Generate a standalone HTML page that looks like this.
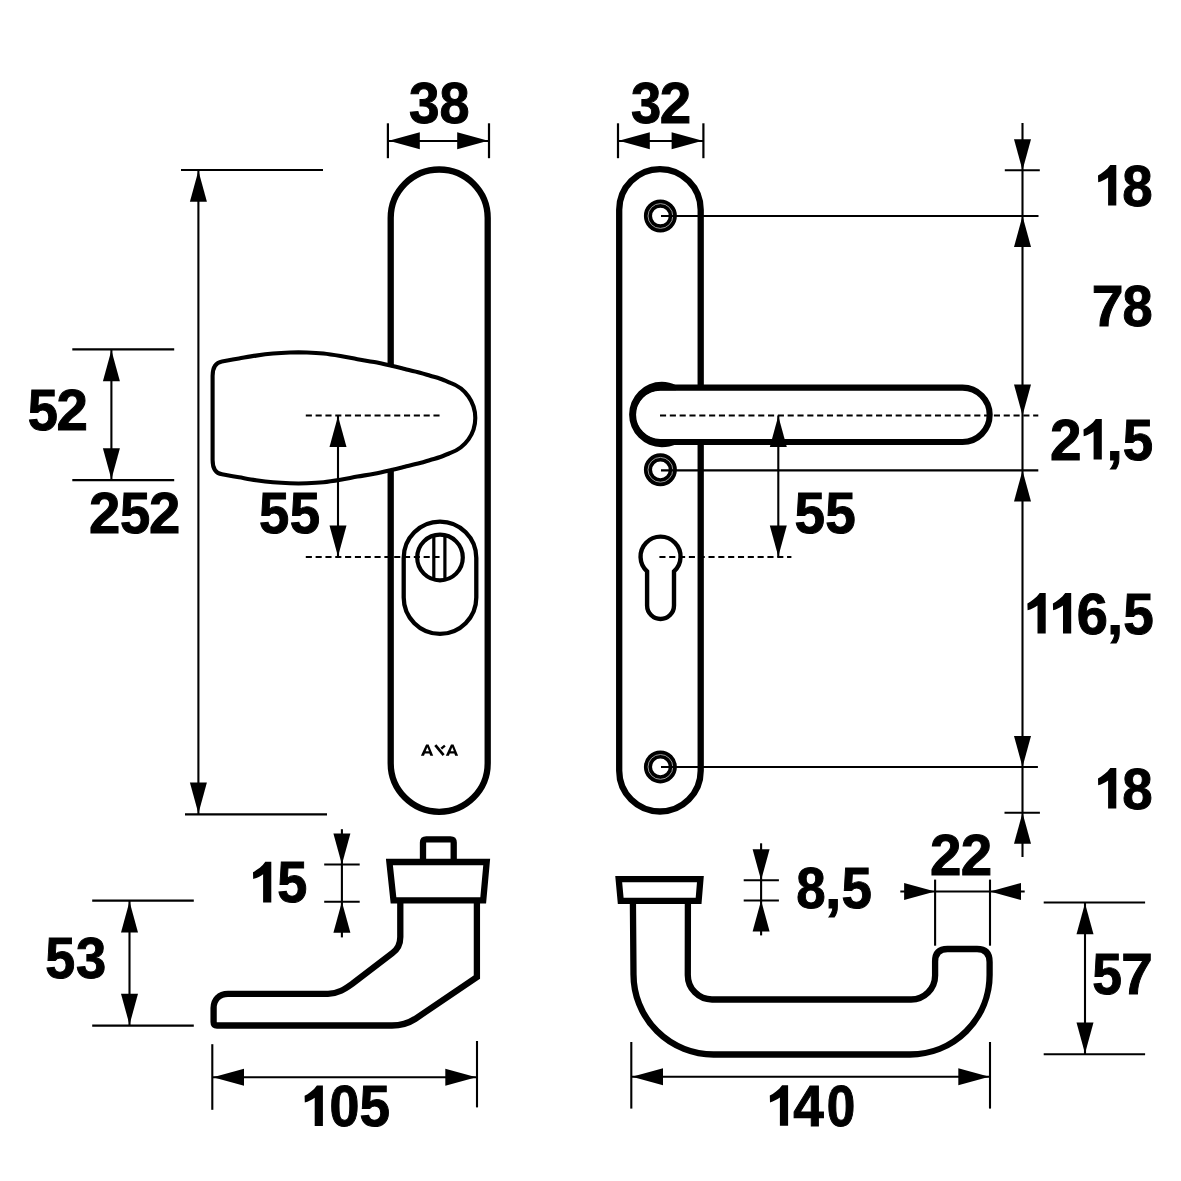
<!DOCTYPE html>
<html><head><meta charset="utf-8"><style>
html,body{margin:0;padding:0;background:#fff;}
svg{display:block;}
text{font-family:"Liberation Sans",sans-serif;font-weight:bold;fill:#000;}
.o{fill:#fff;stroke:#000;}
.f{fill:#000;stroke:none;}
.d{stroke:#000;stroke-width:2;stroke-dasharray:6.1 3.72;}
</style></head><body>
<svg width="1181" height="1181" viewBox="0 0 1181 1181" stroke="#000" stroke-linecap="butt">
<rect width="1181" height="1181" fill="#fff" stroke="none"/>
<line x1="387.9" y1="123.3" x2="387.9" y2="158.2" stroke-width="2.2"/>
<line x1="489" y1="123.3" x2="489" y2="158.2" stroke-width="2.2"/>
<line x1="388" y1="140.9" x2="489" y2="140.9" stroke-width="2.0"/>
<polygon class="f" points="388.8,140.8 419.8,132.3 419.8,149.3"/>
<polygon class="f" points="488.2,140.8 457.2,149.3 457.2,132.3"/>
<text transform="translate(408.94,123.10) scale(0.9502,1)" font-size="57.8">3</text>
<text transform="translate(439.58,123.10) scale(0.9358,1)" font-size="57.8">8</text>
<line x1="618" y1="123.3" x2="618" y2="158.2" stroke-width="2.2"/>
<line x1="703.4" y1="123.3" x2="703.4" y2="158.2" stroke-width="2.2"/>
<line x1="618" y1="140.9" x2="703.4" y2="140.9" stroke-width="2.0"/>
<polygon class="f" points="618.8,140.8 649.8,132.3 649.8,149.3"/>
<polygon class="f" points="702.6,140.8 671.6,149.3 671.6,132.3"/>
<text transform="translate(630.95,123.00) scale(0.9398,1)" font-size="57.8">3</text>
<text transform="translate(659.64,123.00) scale(0.9774,1)" font-size="57.8">2</text>
<line x1="181" y1="170" x2="323" y2="170" stroke-width="2.1"/>
<line x1="185" y1="814.4" x2="327" y2="814.4" stroke-width="2.1"/>
<line x1="198.4" y1="170" x2="198.4" y2="814.4" stroke-width="2.1"/>
<polygon class="f" points="198.4,170.8 206.9,201.8 189.9,201.8"/>
<polygon class="f" points="198.4,813.6 189.9,782.6 206.9,782.6"/>
<text transform="translate(88.95,533.20) scale(0.9739,1)" font-size="57.8">2</text>
<text transform="translate(120.12,533.20) scale(0.9423,1)" font-size="57.8">5</text>
<text transform="translate(149.05,533.20) scale(0.9739,1)" font-size="57.8">2</text>
<line x1="72.3" y1="349.4" x2="174.2" y2="349.4" stroke-width="2.1"/>
<line x1="72.3" y1="480.1" x2="174.2" y2="480.1" stroke-width="2.1"/>
<line x1="111.4" y1="349.4" x2="111.4" y2="480.1" stroke-width="2.1"/>
<polygon class="f" points="111.4,350.2 119.9,381.2 102.9,381.2"/>
<polygon class="f" points="111.4,479.3 102.9,448.3 119.9,448.3"/>
<text transform="translate(27.73,429.70) scale(0.9388,1)" font-size="57.8">5</text>
<text transform="translate(56.54,429.70) scale(0.9774,1)" font-size="57.8">2</text>
<rect class="o" x="390.7" y="169.5" width="97" height="642.3" rx="48.5" ry="48.5" stroke-width="6.3"/>
<path class="o" d="M212.6,375.9 C212.6,367.9 215,362.59999999999997 222,361.5 C224.83,361.00 233.33,359.48 239.00,358.50 C244.67,357.52 250.33,356.43 256.00,355.60 C261.67,354.77 267.33,354.02 273.00,353.50 C278.67,352.98 284.33,352.67 290.00,352.50 C295.67,352.33 301.42,352.33 307.00,352.50 C312.58,352.67 317.92,352.92 323.50,353.50 C329.08,354.08 334.85,355.05 340.50,356.00 C346.15,356.95 351.77,358.18 357.40,359.20 C363.03,360.22 368.65,361.00 374.30,362.10 C379.95,363.20 386.22,364.65 391.30,365.80 C396.38,366.95 400.02,367.85 404.80,369.00 C409.58,370.15 415.77,371.57 420.00,372.70 C424.23,373.83 426.82,374.78 430.20,375.80 C433.58,376.82 436.92,377.62 440.30,378.80 C443.68,379.98 448.80,382.22 450.50,382.90 A37.1,37.1 0 0 1 450.5,452.9 C448.80,453.58 443.68,455.82 440.30,457.00 C436.92,458.18 433.58,458.98 430.20,460.00 C426.82,461.02 424.23,461.97 420.00,463.10 C415.77,464.23 409.58,465.65 404.80,466.80 C400.02,467.95 396.38,468.85 391.30,470.00 C386.22,471.15 379.95,472.60 374.30,473.70 C368.65,474.80 363.03,475.58 357.40,476.60 C351.77,477.62 346.15,478.85 340.50,479.80 C334.85,480.75 329.08,481.72 323.50,482.30 C317.92,482.88 312.58,483.13 307.00,483.30 C301.42,483.47 295.67,483.47 290.00,483.30 C284.33,483.13 278.67,482.82 273.00,482.30 C267.33,481.78 261.67,481.03 256.00,480.20 C250.33,479.37 244.67,478.28 239.00,477.30 C233.33,476.32 224.83,474.80 222.00,474.30 C215,473.2 212.6,467.9 212.6,459.9 Z" stroke-width="4.1"/>
<rect class="o" x="403.7" y="521.6" width="72.6" height="112.2" rx="36.3" ry="36.3" stroke-width="4.3"/>
<circle class="o" cx="440" cy="557.5" r="22.8" stroke-width="4.2"/>
<line x1="433.8" y1="536" x2="433.8" y2="579" stroke-width="3.2"/>
<line x1="444.9" y1="536" x2="444.9" y2="579" stroke-width="3.2"/>
<line class="d" x1="305.8" y1="415.5" x2="440" y2="415.5"/>
<line class="d" x1="305.8" y1="557" x2="440" y2="557"/>
<line x1="338" y1="415.5" x2="338" y2="557" stroke-width="2.1"/>
<polygon class="f" points="338.0,416.0 346.5,447.0 329.5,447.0"/>
<polygon class="f" points="338.0,556.5 329.5,525.5 346.5,525.5"/>
<text transform="translate(259.12,533.30) scale(0.9423,1)" font-size="57.8">5</text>
<text transform="translate(289.82,533.30) scale(0.9458,1)" font-size="57.8">5</text>
<path class="f" fill-rule="evenodd" d="M420.90,755.70 L426.10,744.40 L428.60,744.40 L433.20,755.70 L430.30,755.70 L429.40,753.50 L424.90,753.50 L424.00,755.70 Z M425.70,751.30 L429.00,751.30 L427.35,747.20 Z M445.80,755.70 L451.00,744.40 L453.50,744.40 L458.10,755.70 L455.20,755.70 L454.30,753.50 L449.80,753.50 L448.90,755.70 Z M450.60,751.30 L453.90,751.30 L452.25,747.20 Z"/>
<path d="M435.3,745.2 L443.6,755.2" stroke-width="2.7" fill="none"/>
<path d="M444.9,745.6 L441.3,748.6" stroke-width="2.4" fill="none"/>
<rect class="o" x="619.2" y="169.1" width="81.5" height="642.4" rx="40.75" ry="40.75" stroke-width="6.3"/>
<circle cx="660.4" cy="216" r="12.42" fill="none" stroke-width="8.15"/>
<circle cx="660.4" cy="216" r="12.4" fill="none" stroke="#a8a8a8" stroke-width="0.9"/>
<circle cx="660.4" cy="469.8" r="12.42" fill="none" stroke-width="8.15"/>
<circle cx="660.4" cy="469.8" r="12.4" fill="none" stroke="#a8a8a8" stroke-width="0.9"/>
<circle cx="660.4" cy="766.9" r="12.42" fill="none" stroke-width="8.15"/>
<circle cx="660.4" cy="766.9" r="12.4" fill="none" stroke="#a8a8a8" stroke-width="0.9"/>
<line x1="661" y1="216" x2="1038.5" y2="216" stroke-width="2.1"/>
<line x1="661" y1="470.4" x2="1038.3" y2="470.4" stroke-width="2.1"/>
<line x1="661" y1="767" x2="1037.9" y2="767" stroke-width="2.1"/>
<path class="o" d="M660.2,387.6 H962.5 A27.2,27.2 0 0 1 962.5,442 H660.2 A27.2,27.2 0 0 1 660.2,387.6 Z" stroke-width="6.1"/>
<path class="f" d="M676,385.2 C672,383 667,381.8 661.8,381.8 A32.7,32.7 0 0 0 661.8,447.2 C667,447.2 672,446 676,444.5 L676,439.4 L660.2,439.4 A24.5,24.5 0 0 1 660.2,390.3 L676,390.3 Z"/>
<path class="o" d="M647.1,571.4 A20,20 0 1 1 674,571.4 L674,605.5 A13.45,13.45 0 0 1 647.1,605.5 Z" stroke-width="4.4"/>
<line class="d" x1="660" y1="415.5" x2="1038.3" y2="415.5"/>
<line class="d" x1="659.4" y1="557" x2="791.4" y2="557"/>
<line x1="778.3" y1="415.5" x2="778.3" y2="557" stroke-width="2.1"/>
<polygon class="f" points="778.3,416.0 786.8,447.0 769.8,447.0"/>
<polygon class="f" points="778.3,556.5 769.8,525.5 786.8,525.5"/>
<text transform="translate(794.51,533.30) scale(0.9493,1)" font-size="57.8">5</text>
<text transform="translate(825.31,533.30) scale(0.9493,1)" font-size="57.8">5</text>
<line x1="1022.5" y1="123" x2="1022.5" y2="857" stroke-width="2.1"/>
<line x1="1004.8" y1="170.2" x2="1039.8" y2="170.2" stroke-width="2.1"/>
<line x1="1004.5" y1="812.7" x2="1039.9" y2="812.7" stroke-width="2.1"/>
<polygon class="f" points="1022.5,170.2 1014.0,139.2 1031.0,139.2"/>
<polygon class="f" points="1022.5,216.0 1031.0,247.0 1014.0,247.0"/>
<polygon class="f" points="1022.5,415.5 1014.0,384.5 1031.0,384.5"/>
<polygon class="f" points="1022.5,470.4 1031.0,501.4 1014.0,501.4"/>
<polygon class="f" points="1022.5,767.0 1014.0,736.0 1031.0,736.0"/>
<polygon class="f" points="1022.5,812.7 1031.0,843.7 1014.0,843.7"/>
<path class="f" d="M1110.30,165.00 H1116.30 V205.60 H1108.10 V177.40 C1105.20,179.60 1101.80,181.20 1098.20,182.20 L1098.00,175.40 C1101.50,173.50 1107.00,170.00 1110.30,165.00 Z"/>
<text transform="translate(1122.36,205.60) scale(0.9463,1)" font-size="57.8">8</text>
<text transform="translate(1091.85,326.30) scale(0.9881,1)" font-size="57.8">7</text>
<text transform="translate(1122.38,326.30) scale(0.9393,1)" font-size="57.8">8</text>
<text transform="translate(1050.03,459.60) scale(0.9810,1)" font-size="57.8">2</text>
<path class="f" d="M1095.80,419.00 H1101.80 V459.60 H1093.60 V431.40 C1090.70,433.60 1087.30,435.20 1083.70,436.20 L1083.50,429.40 C1087.00,427.50 1092.50,424.00 1095.80,419.00 Z"/>
<text transform="translate(1106.42,459.60) scale(1.0158,1)" font-size="57.8">,</text>
<text transform="translate(1122.72,459.60) scale(0.9458,1)" font-size="57.8">5</text>
<path class="f" d="M1039.70,593.00 H1045.70 V633.60 H1037.50 V605.40 C1034.60,607.60 1031.20,609.20 1027.60,610.20 L1027.40,603.40 C1030.90,601.50 1036.40,598.00 1039.70,593.00 Z"/>
<path class="f" d="M1065.20,593.00 H1071.20 V633.60 H1063.00 V605.40 C1060.10,607.60 1056.70,609.20 1053.10,610.20 L1052.90,603.40 C1056.40,601.50 1061.90,598.00 1065.20,593.00 Z"/>
<text transform="translate(1076.65,633.60) scale(0.9699,1)" font-size="57.8">6</text>
<text transform="translate(1106.96,633.60) scale(1.0037,1)" font-size="57.8">,</text>
<text transform="translate(1123.21,633.60) scale(0.9493,1)" font-size="57.8">5</text>
<path class="f" d="M1110.30,768.00 H1116.30 V808.60 H1108.10 V780.40 C1105.20,782.60 1101.80,784.20 1098.20,785.20 L1098.00,778.40 C1101.50,776.50 1107.00,773.00 1110.30,768.00 Z"/>
<text transform="translate(1122.36,808.60) scale(0.9463,1)" font-size="57.8">8</text>
<path class="o" d="M423,862 V842.6 Q423,839.3 426.3,839.3 H450.4 Q453.7,839.3 453.7,842.6 V862" stroke-width="6.3"/>
<path class="o" d="M389.4,862 H486.7 L483.2,900.4 H393.5 Z" stroke-width="6.3" stroke-linejoin="miter"/>
<path d="M400.3,900.4 L400.3,937 C400.3,944 398,949 392.5,953 L352,984 C345,989 338,993.8 328,993.8 L228,993.8 C219,993.8 213.6,1000 213.6,1008 L213.6,1022 Q213.6,1025.5 217,1025.5 L392,1025.5 C401,1025.5 408,1023.5 415,1019 L476.9,977 L476.9,900.4" stroke-width="6.3" fill="none"/>
<line x1="341.9" y1="829.2" x2="341.9" y2="937.4" stroke-width="2.1"/>
<line x1="324.2" y1="864.5" x2="359.7" y2="864.5" stroke-width="2.1"/>
<line x1="324.2" y1="901.8" x2="359.7" y2="901.8" stroke-width="2.1"/>
<polygon class="f" points="341.9,864.5 333.4,833.5 350.4,833.5"/>
<polygon class="f" points="341.9,901.8 350.4,932.8 333.4,932.8"/>
<path class="f" d="M265.30,861.80 H271.30 V902.40 H263.10 V874.20 C260.20,876.40 256.80,878.00 253.20,879.00 L253.00,872.20 C256.50,870.30 262.00,866.80 265.30,861.80 Z"/>
<text transform="translate(277.24,902.40) scale(0.9354,1)" font-size="57.8">5</text>
<line x1="92.2" y1="900.6" x2="193.8" y2="900.6" stroke-width="2.1"/>
<line x1="92.2" y1="1025.6" x2="193.8" y2="1025.6" stroke-width="2.1"/>
<line x1="129.5" y1="900.6" x2="129.5" y2="1025.6" stroke-width="2.1"/>
<polygon class="f" points="129.5,901.4 138.0,932.4 121.0,932.4"/>
<polygon class="f" points="129.5,1024.8 121.0,993.8 138.0,993.8"/>
<text transform="translate(45.34,978.30) scale(0.9319,1)" font-size="57.8">5</text>
<text transform="translate(76.05,978.30) scale(0.9398,1)" font-size="57.8">3</text>
<line x1="212.3" y1="1044.2" x2="212.3" y2="1109.8" stroke-width="2.1"/>
<line x1="477" y1="1041" x2="477" y2="1107.4" stroke-width="2.1"/>
<line x1="212.3" y1="1077.2" x2="477" y2="1077.2" stroke-width="2.1"/>
<polygon class="f" points="213.0,1077.2 244.0,1068.7 244.0,1085.7"/>
<polygon class="f" points="476.3,1077.2 445.3,1085.7 445.3,1068.7"/>
<path class="f" d="M316.90,1085.40 H322.90 V1126.00 H314.70 V1097.80 C311.80,1100.00 308.40,1101.60 304.80,1102.60 L304.60,1095.80 C308.10,1093.90 313.60,1090.40 316.90,1085.40 Z"/>
<text transform="translate(329.57,1126.00) scale(0.9313,1)" font-size="57.8">0</text>
<text transform="translate(359.61,1126.00) scale(0.9493,1)" font-size="57.8">5</text>
<path class="o" d="M618.7,879.1 H700.4 L698.6,900.9 H620.7 Z" stroke-width="6.3" stroke-linejoin="miter"/>
<path d="M632.9,900.9 L633.5,974.5 A80,80 0 0 0 713.5,1054.5 L910,1054.5 A79.6,79.6 0 0 0 989.6,975 L989.6,962 Q989.6,949 977,949 L947.5,949 Q935.1,949 935.1,961.5 L935.1,975.5 A24,24 0 0 1 911,999.5 L712,999.5 A24.3,24.3 0 0 1 687.8,975.2 L687.9,900.9" stroke-width="6.3" fill="none"/>
<line x1="761.1" y1="843.3" x2="761.1" y2="935.4" stroke-width="2.1"/>
<line x1="743.7" y1="880.2" x2="778.9" y2="880.2" stroke-width="2.1"/>
<line x1="743.7" y1="900.5" x2="778.9" y2="900.5" stroke-width="2.1"/>
<polygon class="f" points="761.1,880.2 752.6,849.2 769.6,849.2"/>
<polygon class="f" points="761.1,900.5 769.6,931.5 752.6,931.5"/>
<text transform="translate(796.22,907.50) scale(0.9147,1)" font-size="57.8">8</text>
<text transform="translate(825.12,907.50) scale(1.0158,1)" font-size="57.8">,</text>
<text transform="translate(841.42,907.50) scale(0.9458,1)" font-size="57.8">5</text>
<line x1="935.1" y1="879.6" x2="935.1" y2="945.7" stroke-width="2.1"/>
<line x1="990" y1="879.6" x2="990" y2="945.7" stroke-width="2.1"/>
<line x1="900.3" y1="891.5" x2="1024.7" y2="891.5" stroke-width="2.1"/>
<polygon class="f" points="935.1,891.5 904.1,900.0 904.1,883.0"/>
<polygon class="f" points="990.0,891.5 1021.0,883.0 1021.0,900.0"/>
<text transform="translate(929.94,874.90) scale(0.9774,1)" font-size="57.8">2</text>
<text transform="translate(960.84,874.90) scale(0.9774,1)" font-size="57.8">2</text>
<line x1="1043.7" y1="902.5" x2="1145.1" y2="902.5" stroke-width="2.1"/>
<line x1="1043.7" y1="1054.3" x2="1145.1" y2="1054.3" stroke-width="2.1"/>
<line x1="1085" y1="902.5" x2="1085" y2="1054.3" stroke-width="2.1"/>
<polygon class="f" points="1085.0,903.3 1093.5,934.3 1076.5,934.3"/>
<polygon class="f" points="1085.0,1053.5 1076.5,1022.5 1093.5,1022.5"/>
<text transform="translate(1092.26,994.30) scale(0.9249,1)" font-size="57.8">5</text>
<text transform="translate(1121.16,994.30) scale(0.9808,1)" font-size="57.8">7</text>
<line x1="631.3" y1="1042" x2="631.3" y2="1108.6" stroke-width="2.1"/>
<line x1="990" y1="1042" x2="990" y2="1108.6" stroke-width="2.1"/>
<line x1="631.3" y1="1076.7" x2="990" y2="1076.7" stroke-width="2.1"/>
<polygon class="f" points="632.0,1076.7 663.0,1068.2 663.0,1085.2"/>
<polygon class="f" points="989.3,1076.7 958.3,1085.2 958.3,1068.2"/>
<path class="f" d="M782.10,1085.20 H788.10 V1125.80 H779.90 V1097.60 C777.00,1099.80 773.60,1101.40 770.00,1102.40 L769.80,1095.60 C773.30,1093.70 778.80,1090.20 782.10,1085.20 Z"/>
<text transform="translate(793.17,1125.80) scale(0.9496,1)" font-size="57.8">4</text>
<text transform="translate(826.87,1125.80) scale(0.8876,1)" font-size="57.8">0</text>
</svg>
</body></html>
